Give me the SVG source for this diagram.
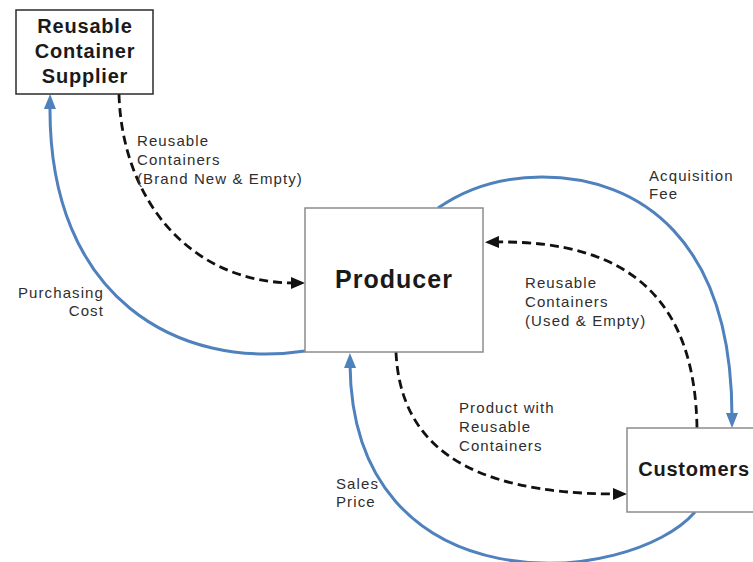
<svg xmlns="http://www.w3.org/2000/svg" width="753" height="562" viewBox="0 0 753 562">
  <style>
    .box { fill: #ffffff; stroke: #8c8c8c; stroke-width: 1.5; }
    .box.dark { stroke: #2b2b2b; }
    .title { font-family: "Liberation Sans", Arial, sans-serif; font-weight: bold; fill: #1a1a1a; text-anchor: middle; }
    .lbl { font-family: "Liberation Sans", Arial, sans-serif; font-size: 15px; letter-spacing: 1.1px; fill: #2e2e2e; }
    .money { fill: none; stroke: #4f81bd; stroke-width: 3; }
    .goods { fill: none; stroke: #111111; stroke-width: 2.8; stroke-dasharray: 9 5; }
  </style>
  <defs>
    <marker id="arrowBlue" markerUnits="userSpaceOnUse" markerWidth="16" markerHeight="12" refX="4" refY="6" orient="auto">
      <path d="M0,0 L15,6 L0,12 z" fill="#4f81bd"/>
    </marker>
    <marker id="arrowBlack" markerUnits="userSpaceOnUse" markerWidth="15" markerHeight="12" refX="4" refY="6" orient="auto">
      <path d="M0,0 L14,6 L0,12 z" fill="#111111"/>
    </marker>
  </defs>

  <rect width="753" height="562" fill="#ffffff"/>

  <!-- flows -->
  <g id="connectors">
    <!-- new containers: supplier to producer -->
    <path class="goods" d="M119,94 C122,200 190,283 295,283" marker-end="url(#arrowBlack)"/>
    <!-- purchasing cost: producer pays supplier -->
    <path class="money" d="M305,351 C180,370 48,300 50,105" marker-end="url(#arrowBlue)"/>
    <!-- acquisition fee: producer to customers -->
    <path class="money" d="M438,208 C468,187 505,177 542,177 C640,177 732,240 732,417" marker-end="url(#arrowBlue)"/>
    <!-- used containers returned by customers -->
    <path class="goods" d="M697,428 C695,300 630,240 495,242" marker-end="url(#arrowBlack)"/>
    <!-- product shipped to customers -->
    <path class="goods" d="M396,352 C400,440 460,494 617,494" marker-end="url(#arrowBlack)"/>
    <!-- sales price: customers pay producer -->
    <path class="money" d="M695,512 C630,587 352,610 350,364" marker-end="url(#arrowBlue)"/>
  </g>

  <g id="supplier">
    <rect class="box dark" x="16" y="10" width="137" height="84"/>
    <text class="title" font-size="20" letter-spacing="0.8" x="85" y="33">Reusable</text>
    <text class="title" font-size="20" letter-spacing="0.8" x="85" y="58">Container</text>
    <text class="title" font-size="20" letter-spacing="0.8" x="85" y="83">Supplier</text>
  </g>

  <g id="producer">
    <rect class="box" x="305" y="208" width="178" height="144"/>
    <text class="title" font-size="25" letter-spacing="1" x="394" y="288">Producer</text>
  </g>

  <g id="customers">
    <rect class="box" x="627" y="428" width="140" height="84"/>
    <text class="title" font-size="20" letter-spacing="0.8" x="694" y="476">Customers</text>
  </g>

  <g id="labels">
    <text class="lbl" x="137" y="146">Reusable</text>
    <text class="lbl" x="137" y="165">Containers</text>
    <text class="lbl" x="137" y="184">(Brand New &amp; Empty)</text>

    <text class="lbl" x="104" y="298" text-anchor="end">Purchasing</text>
    <text class="lbl" x="104" y="316" text-anchor="end">Cost</text>

    <text class="lbl" x="649" y="181">Acquisition</text>
    <text class="lbl" x="649" y="199">Fee</text>

    <text class="lbl" x="525" y="288">Reusable</text>
    <text class="lbl" x="525" y="307">Containers</text>
    <text class="lbl" x="525" y="326">(Used &amp; Empty)</text>

    <text class="lbl" x="459" y="413">Product with</text>
    <text class="lbl" x="459" y="432">Reusable</text>
    <text class="lbl" x="459" y="451">Containers</text>

    <text class="lbl" x="336" y="489">Sales</text>
    <text class="lbl" x="336" y="507">Price</text>
  </g>
</svg>
